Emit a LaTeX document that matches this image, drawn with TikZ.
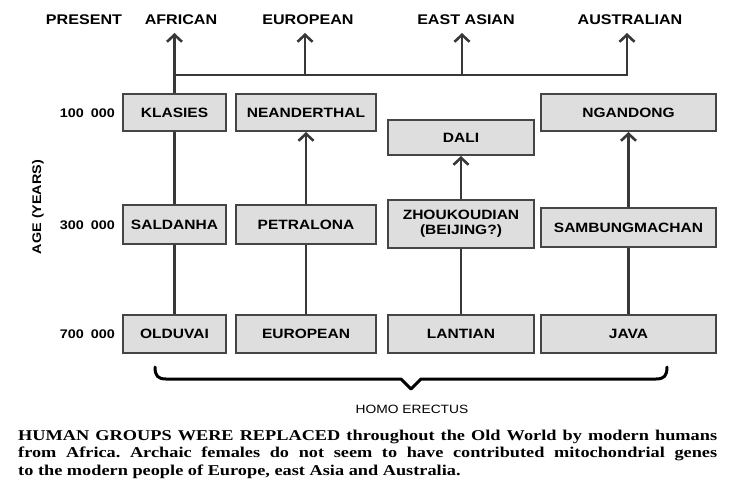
\documentclass[tikz,border=0pt]{standalone}
\usepackage{fontspec}
\usetikzlibrary{arrows.meta}
\newfontfamily\labfont[FakeStretch=1.15]{Liberation Sans}
\newfontfamily\capfont[FakeStretch=1.22]{Liberation Serif}
\definecolor{boxfill}{HTML}{DEDEDE}
\definecolor{boxedge}{HTML}{454545}
\definecolor{linecol}{HTML}{383838}

\begin{document}
\begin{tikzpicture}[x=1pt,y=-1pt,
  box/.style={draw=boxedge, fill=boxfill, line width=2pt, inner sep=0pt,
    font=\labfont\bfseries\fontsize{13.5}{15}\selectfont, align=center},
  toplab/.style={font=\labfont\bfseries\fontsize{14}{16}\selectfont, inner sep=0pt},
  agelab/.style={font=\labfont\bfseries\fontsize{12.5}{14}\selectfont, anchor=east, inner sep=0pt},
  link/.style={draw=linecol, line width=2.8pt},
  uparrow/.style={link, line join=miter, -{Straight Barb[length=7pt,width=15pt,line width=2.6pt]}},
]
\fill[white] (0,0) rectangle (729,483);
\useasboundingbox (0,0) rectangle (729,483);

% column headings (present-day populations)
\node[toplab] (present)    at (84,20)  {PRESENT};
\node[toplab] (african)    at (181,20) {AFRICAN};
\node[toplab] (europeanp)  at (308,20) {EUROPEAN};
\node[toplab] (eastasian)  at (466,20) {EAST ASIAN};
\node[toplab] (australian) at (630,20) {AUSTRALIAN};

% ages
\node[agelab] (age1) at (115,113) {100\hspace{7pt}000};
\node[agelab] (age3) at (115,225) {300\hspace{7pt}000};
\node[agelab] (age7) at (115,334) {700\hspace{7pt}000};
\node[font=\labfont\bfseries\fontsize{12.5}{14}\selectfont, rotate=90, inner sep=0pt] (agelabel) at (38,207) {AGE (YEARS)};

% 100 000 years
\node[box, minimum width=103pt, minimum height=37pt] (klasies)  at (174.5,112.5) {KLASIES};
\node[box, minimum width=140pt, minimum height=37pt] (neand)    at (306,112.5)   {NEANDERTHAL};
\node[box, minimum width=146pt, minimum height=35pt] (dali)     at (461,137.5)   {DALI};
\node[box, minimum width=175pt, minimum height=37pt] (ngandong) at (628.5,112.5) {NGANDONG};

% 300 000 years
\node[box, minimum width=103pt, minimum height=39pt] (saldanha)  at (174.5,224.5) {SALDANHA};
\node[box, minimum width=140pt, minimum height=39pt] (petralona) at (306,224.5)   {PETRALONA};
\node[box, minimum width=146pt, minimum height=48pt] (zhou)      at (461,224)     {ZHOUKOUDIAN\\(BEIJING?)};
\node[box, minimum width=175pt, minimum height=39pt] (sambung)   at (628.5,227.5) {SAMBUNGMACHAN};

% 700 000 years
\node[box, minimum width=103pt, minimum height=38pt] (olduvai)  at (174.5,334) {OLDUVAI};
\node[box, minimum width=140pt, minimum height=38pt] (european) at (306,334)   {EUROPEAN};
\node[box, minimum width=146pt, minimum height=38pt] (lantian)  at (461,334)   {LANTIAN};
\node[box, minimum width=175pt, minimum height=38pt] (java)     at (628.5,334) {JAVA};

% lineages
\draw[link] (olduvai.north)  -- (saldanha.south);
\draw[link] (saldanha.north) -- (klasies.south);
\draw[link] (european.north) -- (petralona.south);
\draw[uparrow] (petralona.north) -- (neand.south);
\draw[link] (lantian.north)  -- (zhou.south);
\draw[uparrow] (zhou.north) -- (dali.south);
\draw[link] (java.north)     -- (sambung.south);
\draw[uparrow] (sambung.north) -- (ngandong.south);

% spread of modern humans out of Africa
\coordinate (tipA)  at (174.5,33);
\coordinate (tipE)  at (305,33);
\coordinate (tipEA) at (462,33);
\coordinate (tipAu) at (627,33);
\coordinate (jA)  at (174.5,75);
\coordinate (jE)  at (305,75);
\coordinate (jEA) at (462,75);
\coordinate (jAu) at (627,75);
\draw[uparrow] (klasies.north) -- (tipA);
\draw[uparrow] (jA) -- (jAu) -- (tipAu);
\draw[uparrow] (jE) -- (tipE);
\draw[uparrow] (jEA) -- (tipEA);

% Homo erectus brace
\draw[line width=3pt, line cap=round, line join=round]
  (155,367) .. controls (155,376) and (158,379) .. (166,379) -- (401,379)
  -- (411,389) -- (421,379) -- (656,379)
  .. controls (664,379) and (667,376) .. (667,367);
\node[font=\labfont\fontsize{12}{14}\selectfont, inner sep=0pt] (erectus) at (412,409) {HOMO ERECTUS};

% caption
\node[anchor=base west, text width=699pt, align=justify, inner sep=0pt,
  font=\capfont\bfseries\fontsize{15}{17.5}\selectfont\frenchspacing] (caption) at (18,440)
  {HUMAN GROUPS WERE REPLACED throughout the Old World by modern humans\linebreak
   from Africa. Archaic females do not seem to have contributed mitochondrial genes\linebreak
   to the modern people of Europe, east Asia and Australia.};
\end{tikzpicture}
\end{document}
